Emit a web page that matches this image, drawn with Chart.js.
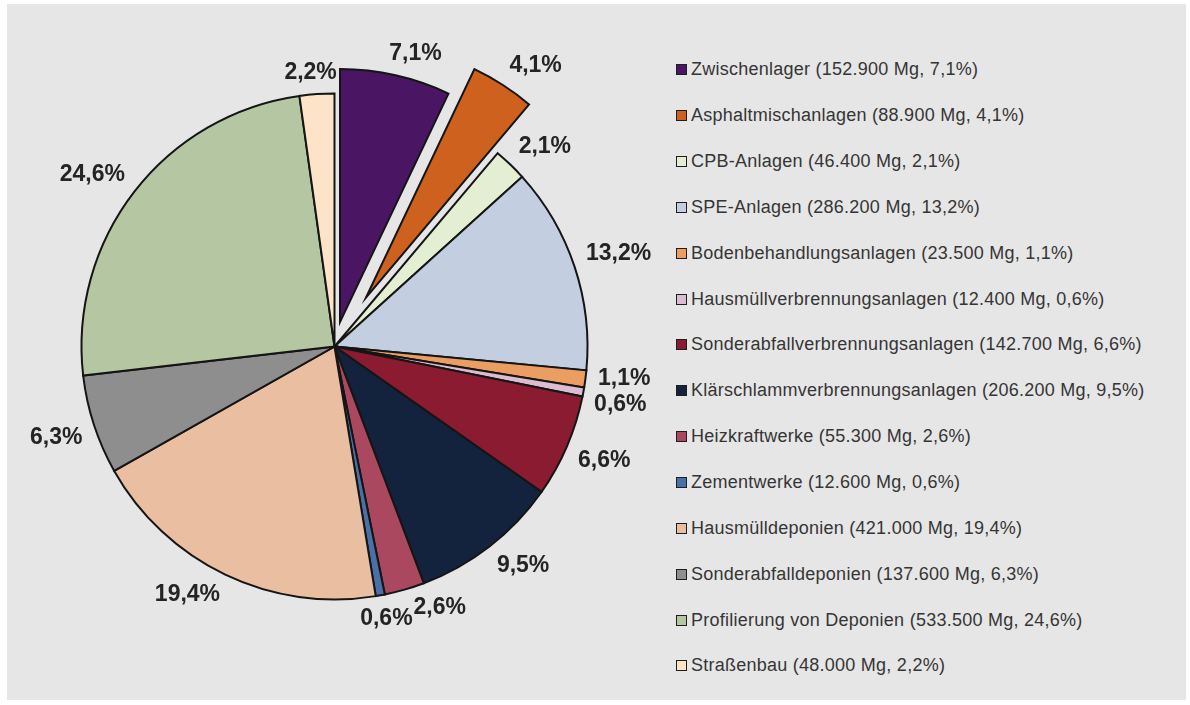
<!DOCTYPE html>
<html lang="de">
<head>
<meta charset="utf-8">
<title>Verwertungswege</title>
<script src="https://cdn.jsdelivr.net/npm/chart.js@4/dist/chart.umd.min.js"></script>
<style>
  html, body { margin: 0; padding: 0; width: 1190px; height: 705px; overflow: hidden; background: #ffffff; }
  #panel { position: absolute; left: 7px; top: 4px; width: 1179px; height: 696px; background: #e6e6e6; }
  #pie { position: absolute; left: 0; top: 0; }
  #legend { position: absolute; left: 676px; top: 47px; font: 18px "Liberation Sans", Arial, sans-serif; color: #353535; letter-spacing: 0.25px; }
  .item { display: flex; align-items: center; height: 45.85px; white-space: nowrap; }
  .swatch { width: 9px; height: 9px; border: 1px solid #1e1e1e; margin-right: 4px; flex: none; }
</style>
</head>
<body>
<div id="panel"></div>
<canvas id="pie" width="670" height="705"></canvas>
<div id="legend"></div>
<script>
// Verwertungswege (Mg) je Anlagenart
const categories = [
  'Zwischenlager',
  'Asphaltmischanlagen',
  'CPB-Anlagen',
  'SPE-Anlagen',
  'Bodenbehandlungsanlagen',
  'Hausmüllverbrennungsanlagen',
  'Sonderabfallverbrennungsanlagen',
  'Klärschlammverbrennungsanlagen',
  'Heizkraftwerke',
  'Zementwerke',
  'Hausmülldeponien',
  'Sonderabfalldeponien',
  'Profilierung von Deponien',
  'Straßenbau'
];
const tonnage = [152900, 88900, 46400, 286200, 23500, 12400, 142700, 206200, 55300, 12600, 421000, 137600, 533500, 48000];

// styling
const sliceColors = ['#4a1562', '#cf611f', '#e4eed3', '#c3cee0', '#eb9d62', '#dcbcd0', '#8a1b31',
                     '#13233d', '#a9485e', '#4a70a8', '#e9bea1', '#8e8e8e', '#b5c7a2', '#fde3c7'];
const explodeDistance = [25, 58, 0, 0, 0, 0, 0, 0, 0, 0, 0, 0, 0, 0];

const total = tonnage.reduce((a, b) => a + b, 0);
const pctText = v => (v / total * 100).toFixed(1).replace('.', ',') + '%';
const fmtMg = v => String(v).replace(/\B(?=(\d{3})+(?!\d))/g, '.');

// pull selected slices out of the pie along their bisector
const explodePlugin = {
  id: 'explode',
  afterDatasetUpdate(chart, args) {
    args.meta.data.forEach((arc, i) => {
      const d = explodeDistance[i] || 0;
      if (!d) return;
      const mid = (arc.startAngle + arc.endAngle) / 2;
      arc.x += Math.cos(mid) * d;
      arc.y += Math.sin(mid) * d;
    });
  }
};

// percentage labels outside each slice, nudged apart where neighbours collide
const outsideLabels = {
  id: 'outsideLabels',
  afterDatasetsDraw(chart) {
    const ctx = chart.ctx;
    const meta = chart.getDatasetMeta(0);
    const gap = 12, h = 19, collideH = 26;
    const sat = t => Math.max(-1, Math.min(1, t * 3));
    ctx.save();
    ctx.font = 'bold 23px "Liberation Sans", Arial, sans-serif';
    ctx.fillStyle = '#242424';
    ctx.textAlign = 'center';
    ctx.textBaseline = 'middle';

    const items = meta.data.map((arc, i) => {
      const txt = pctText(tonnage[i]);
      const w = ctx.measureText(txt).width;
      const mid = (arc.startAngle + arc.endAngle) / 2;
      const ux = Math.cos(mid), uy = Math.sin(mid);
      const r = arc.outerRadius + gap;
      return {
        txt, w,
        x: arc.x + ux * r + sat(ux) * w / 2,
        y: arc.y + uy * r + sat(uy) * h / 2,
        tx: -uy, ty: ux
      };
    });

    const n = items.length;
    for (let iter = 0; iter < 300; iter++) {
      let moved = false;
      for (let i = 0; i < n; i++) {
        const a = items[i], b = items[(i + 1) % n];
        const ox = (a.w + b.w) / 2 - Math.abs(a.x - b.x);
        const oy = collideH - Math.abs(a.y - b.y);
        if (ox > 0 && oy > 0) {
          a.x -= a.tx * 0.5; a.y -= a.ty * 0.5;
          b.x += b.tx * 0.5; b.y += b.ty * 0.5;
          moved = true;
        }
      }
      if (!moved) break;
    }

    items.forEach(it => ctx.fillText(it.txt, it.x, it.y));
    ctx.restore();
  }
};

const chart = new Chart(document.getElementById('pie'), {
  type: 'pie',
  data: {
    labels: categories,
    datasets: [{
      data: tonnage,
      backgroundColor: sliceColors,
      borderColor: '#151515',
      borderWidth: 2,
      borderJoinStyle: 'miter'
    }]
  },
  options: {
    responsive: false,
    devicePixelRatio: 1,
    animation: false,
    events: [],
    radius: 253,
    layout: { padding: { left: 0, right: 1, top: 0, bottom: 12 } },
    plugins: {
      legend: { display: false },
      tooltip: { enabled: false }
    }
  },
  plugins: [explodePlugin, outsideLabels]
});

// legend to the right of the pie
const legend = document.getElementById('legend');
categories.forEach((name, i) => {
  const item = document.createElement('div');
  item.className = 'item';
  const sw = document.createElement('span');
  sw.className = 'swatch';
  sw.style.background = sliceColors[i];
  const label = document.createElement('span');
  label.textContent = name + ' (' + fmtMg(tonnage[i]) + ' Mg, ' + pctText(tonnage[i]) + ')';
  item.appendChild(sw);
  item.appendChild(label);
  legend.appendChild(item);
});
</script>
</body>
</html>
